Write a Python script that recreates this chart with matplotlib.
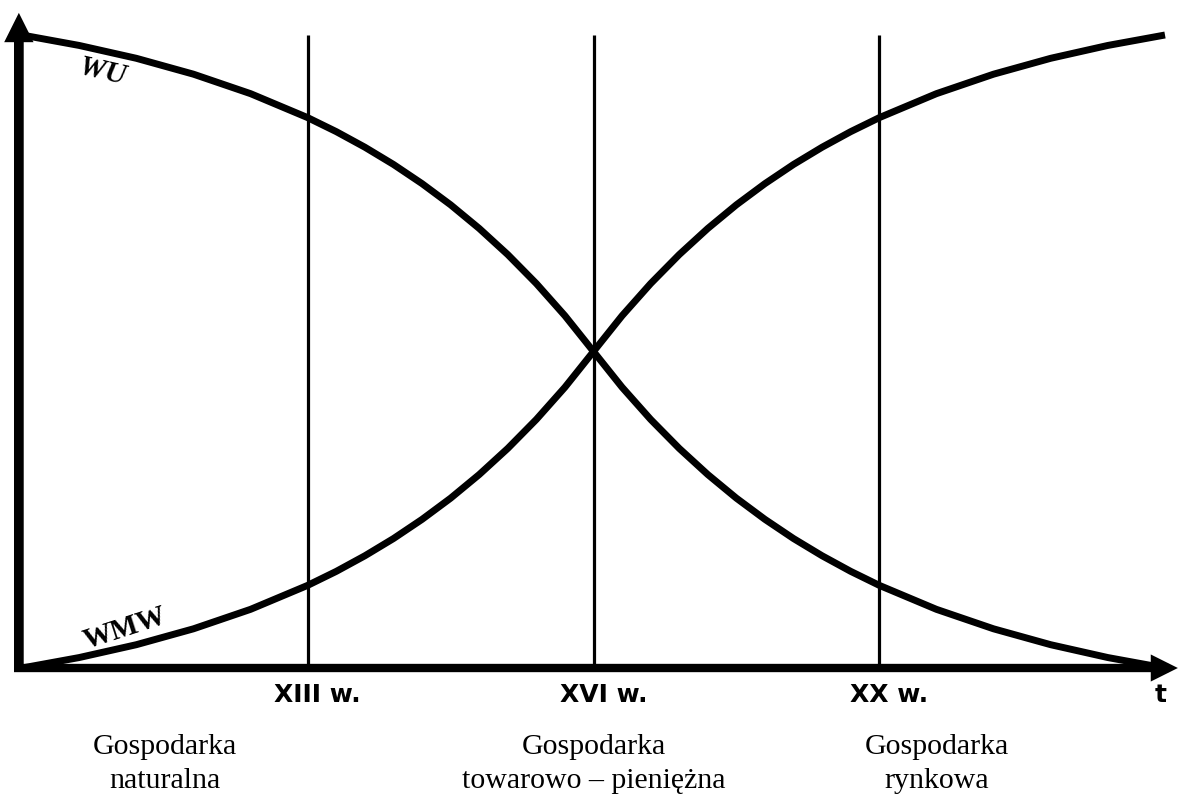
import matplotlib
matplotlib.use("Agg")
import matplotlib.pyplot as plt

# ---- data ----
t = [0, 0.2, 0.4, 0.6, 0.8, 1.0, 1.1, 1.2, 1.3, 1.4, 1.5, 1.6, 1.7, 1.8, 1.9, 2.0,
     2.1, 2.2, 2.3, 2.4, 2.5, 2.6, 2.7, 2.8, 2.9, 3.0, 3.2, 3.4, 3.6, 3.8, 4.0]
wu = [100, 98.35, 96.32, 93.81, 90.73, 86.94, 84.73, 82.27, 79.55, 76.52, 73.17,
      69.44, 65.31, 60.73, 55.65, 50.0, 44.35, 39.27, 34.69, 30.56, 26.83, 23.48,
      20.45, 17.73, 15.27, 13.06, 9.27, 6.19, 3.68, 1.65, 0]
wmw = [0, 1.65, 3.68, 6.19, 9.27, 13.06, 15.27, 17.73, 20.45, 23.48, 26.83, 30.56,
       34.69, 39.27, 44.35, 50.0, 55.65, 60.73, 65.31, 69.44, 73.17, 76.52, 79.55,
       82.27, 84.73, 86.94, 90.73, 93.81, 96.32, 98.35, 100]
tick_pos = [1, 2, 3]
tick_labels = ["XIII w.", "XVI w.", "XX w."]
era_pos = [0.5, 2.0, 3.2]
era_labels = ["Gospodarka\nnaturalna", "Gospodarka\ntowarowo – pieniężna", "Gospodarka\nrynkowa"]

W, H = 1180, 799
fig = plt.figure(figsize=(W / 100, H / 100), dpi=100)
ax = fig.add_axes([22 / W, (H - 668) / H, 1143 / W, 633 / H])
ax.set_xlim(0, 4)
ax.set_ylim(0, 100)
ax.axis("off")

# vertical period lines
for p in tick_pos:
    ax.plot([p, p], [0, 100], color="black", lw=2.3, solid_capstyle="butt")

# curves
ax.plot(t, wu, color="black", lw=5, solid_capstyle="butt", solid_joinstyle="round", clip_on=False)
ax.plot(t, wmw, color="black", lw=5, solid_capstyle="butt", solid_joinstyle="round", clip_on=False)

# axes with arrows
ax.annotate("", xy=(-0.011, 103.5), xytext=(-0.011, -0.6), xycoords="data",
            arrowprops=dict(arrowstyle="-|>,head_length=0.7,head_width=0.35",
                            lw=7, color="black", shrinkA=0, shrinkB=0,
                            mutation_scale=14, capstyle="butt", joinstyle="miter"),
            annotation_clip=False)
ax.annotate("", xy=(4.045, 0), xytext=(-0.028, 0), xycoords="data",
            arrowprops=dict(arrowstyle="-|>,head_length=0.7,head_width=0.35",
                            lw=6, color="black", shrinkA=0, shrinkB=0,
                            mutation_scale=14, capstyle="butt", joinstyle="miter"),
            annotation_clip=False)

# tick labels
for p, lab in zip(tick_pos, tick_labels):
    ax.text(p + 0.035, -4.3, lab, ha="center", va="center", fontsize=18,
            fontweight="bold", family="DejaVu Sans", clip_on=False)
ax.text(3.985, -4.3, "t", ha="center", va="center", fontsize=18,
        fontweight="bold", family="DejaVu Sans", clip_on=False)

# era labels
for p, lab in zip(era_pos, era_labels):
    ax.text(p, -15.2, lab, ha="center", va="center", fontsize=21.5,
            family="Liberation Serif", linespacing=1.4, clip_on=False)

# curve labels
ax.text(0.283, 94.2, "WU", ha="center", va="center", fontsize=21,
        fontweight="bold", fontstyle="italic", family="Liberation Serif", rotation=-13)
ax.text(0.36, 6.3, "WMW", ha="center", va="center", fontsize=21,
        fontweight="bold", family="Liberation Serif", rotation=18)

fig.savefig("out.png", dpi=100, facecolor="white")
